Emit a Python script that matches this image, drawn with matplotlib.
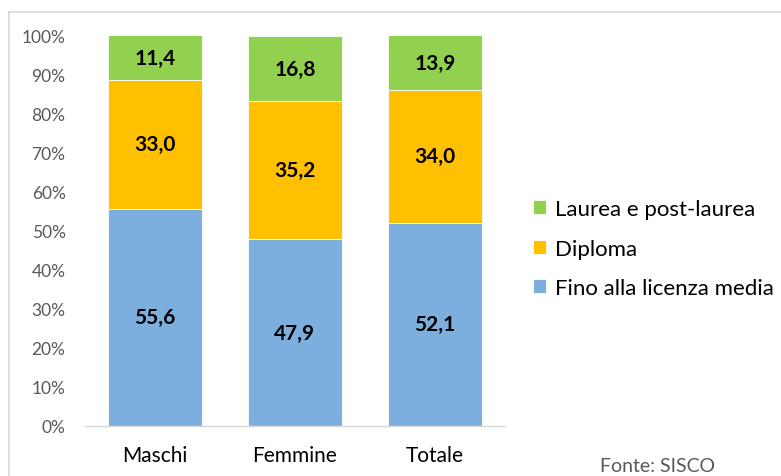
import matplotlib
matplotlib.use("Agg")
import matplotlib.pyplot as plt
from matplotlib.lines import Line2D

plt.rcParams['font.family'] = ['Lato', 'DejaVu Sans']

categories = ["Maschi", "Femmine", "Totale"]
series_names = ["Fino alla licenza media", "Diploma", "Laurea e post-laurea"]
licenza_media = [55.6, 47.9, 52.1]
diploma = [33.0, 35.2, 34.0]
laurea = [11.4, 16.8, 13.9]
y_ticks = [0, 10, 20, 30, 40, 50, 60, 70, 80, 90, 100]
colors = ["#7DAFDE", "#FFC000", "#92D050"]

W, H = 781, 477
fig = plt.figure(figsize=(W / 100, H / 100), dpi=100)

# axes placement in pixels
left, right, top, bottom = 85, 505, 36.5, 427
ax = fig.add_axes([left / W, 1 - bottom / H, (right - left) / W, (bottom - top) / H])

x = list(range(len(categories)))
values = [licenza_media, diploma, laurea]
base = [0.0] * len(categories)
handles = []
for name, vals, col in zip(series_names, values, colors):
    bars = ax.bar(x, vals, width=0.665, bottom=base, color=col, edgecolor="white",
                  linewidth=0.6, label=name)
    for xi, b, v in zip(x, base, vals):
        ax.text(xi, b + v / 2, f"{v:.1f}".replace(".", ","), ha="center", va="center",
                fontsize=15, fontweight="bold", color="black")
    base = [b + v for b, v in zip(base, vals)]
    handles.append(bars)

ax.set_xlim(-0.5, 2.5)
ax.set_ylim(0, 100)
ax.set_yticks(y_ticks)
ax.set_yticklabels([f"{t}%" for t in y_ticks], fontsize=12.5, color="#595959")
ax.set_xticks(x)
ax.set_xticklabels(categories, fontsize=15, color="black")
ax.tick_params(axis="both", length=0)
ax.tick_params(axis="y", pad=14)
ax.tick_params(axis="x", pad=14)
for s in ["top", "right", "left"]:
    ax.spines[s].set_visible(False)
ax.spines["bottom"].set_color("#D9D9D9")
ax.spines["bottom"].set_linewidth(1.0)

leg = fig.legend(handles[::-1], series_names[::-1], loc="upper left",
                 bbox_to_anchor=(513 / W, 1 - 180 / H), frameon=False,
                 fontsize=16, handlelength=0.58, handleheight=0.58,
                 handletextpad=0.4, labelspacing=0.88)

# outer chart frame (top and left edges)
fig.add_artist(Line2D([8.5 / W, 1.0], [1 - 12.5 / H, 1 - 12.5 / H], color="#D9D9D9",
                      linewidth=1.2, transform=fig.transFigure))
fig.add_artist(Line2D([8.5 / W, 8.5 / W], [0, 1 - 12.5 / H], color="#D9D9D9",
                      linewidth=1.2, transform=fig.transFigure))

fig.text(600 / W, 1 - 467 / H, "Fonte: SISCO", fontsize=14, color="#595959",
         ha="left", va="center")

fig.savefig("out.png", dpi=100)
